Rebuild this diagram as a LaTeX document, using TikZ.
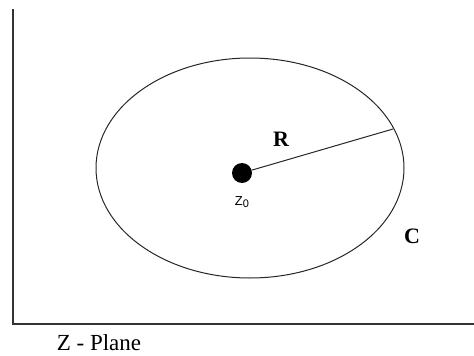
\documentclass[tikz,border=0pt]{standalone}
\usepackage{fontspec}
\setmainfont{Liberation Serif}
\newfontfamily\labelsans{Liberation Sans}
\usetikzlibrary{positioning, calc}

\begin{document}
\begin{tikzpicture}[
  x=1pt, y=-1pt,
  axis/.style={draw=black!80, line width=1.4pt},
  contour/.style={draw=black!85, line width=1pt},
  dot/.style={circle, fill=black, inner sep=0pt, minimum size=20pt},
  radius line/.style={draw=black!85, line width=1pt},
  boldlabel/.style={font=\bfseries\fontsize{22}{22}\selectfont, inner sep=0pt},
  pointlabel/.style={font=\labelsans\fontsize{13}{13}\selectfont, inner sep=0pt},
  planelabel/.style={font=\fontsize{23}{23}\selectfont, inner sep=0pt, anchor=base}
]
\useasboundingbox (0,0) rectangle (474,356);

% Axes
\coordinate (ytop) at (13,9);
\coordinate (origin) at (13,324);
\coordinate (xend) at (474,324);
\draw[axis] (ytop) -- (origin) -- (xend);

% Contour C
\coordinate (centre) at (250,168);
\draw[contour] (centre) ellipse [x radius=154, y radius=110];

% Centre point and radius
\node[dot] (z0) at (242,173) {};
\coordinate (rim) at (393,129);
\draw[radius line] (z0) -- (rim);

% Labels
\node[boldlabel] (Rlabel) at (281,139) {R};
\node[pointlabel, below=13pt of z0] (z0label) {Z\raisebox{-2.5pt}{\fontsize{11}{11}\selectfont 0}};
\node[boldlabel] (Clabel) at (412,236) {C};
\node[planelabel] (plane) at (99,350) {Z - Plane};

\end{tikzpicture}
\end{document}
